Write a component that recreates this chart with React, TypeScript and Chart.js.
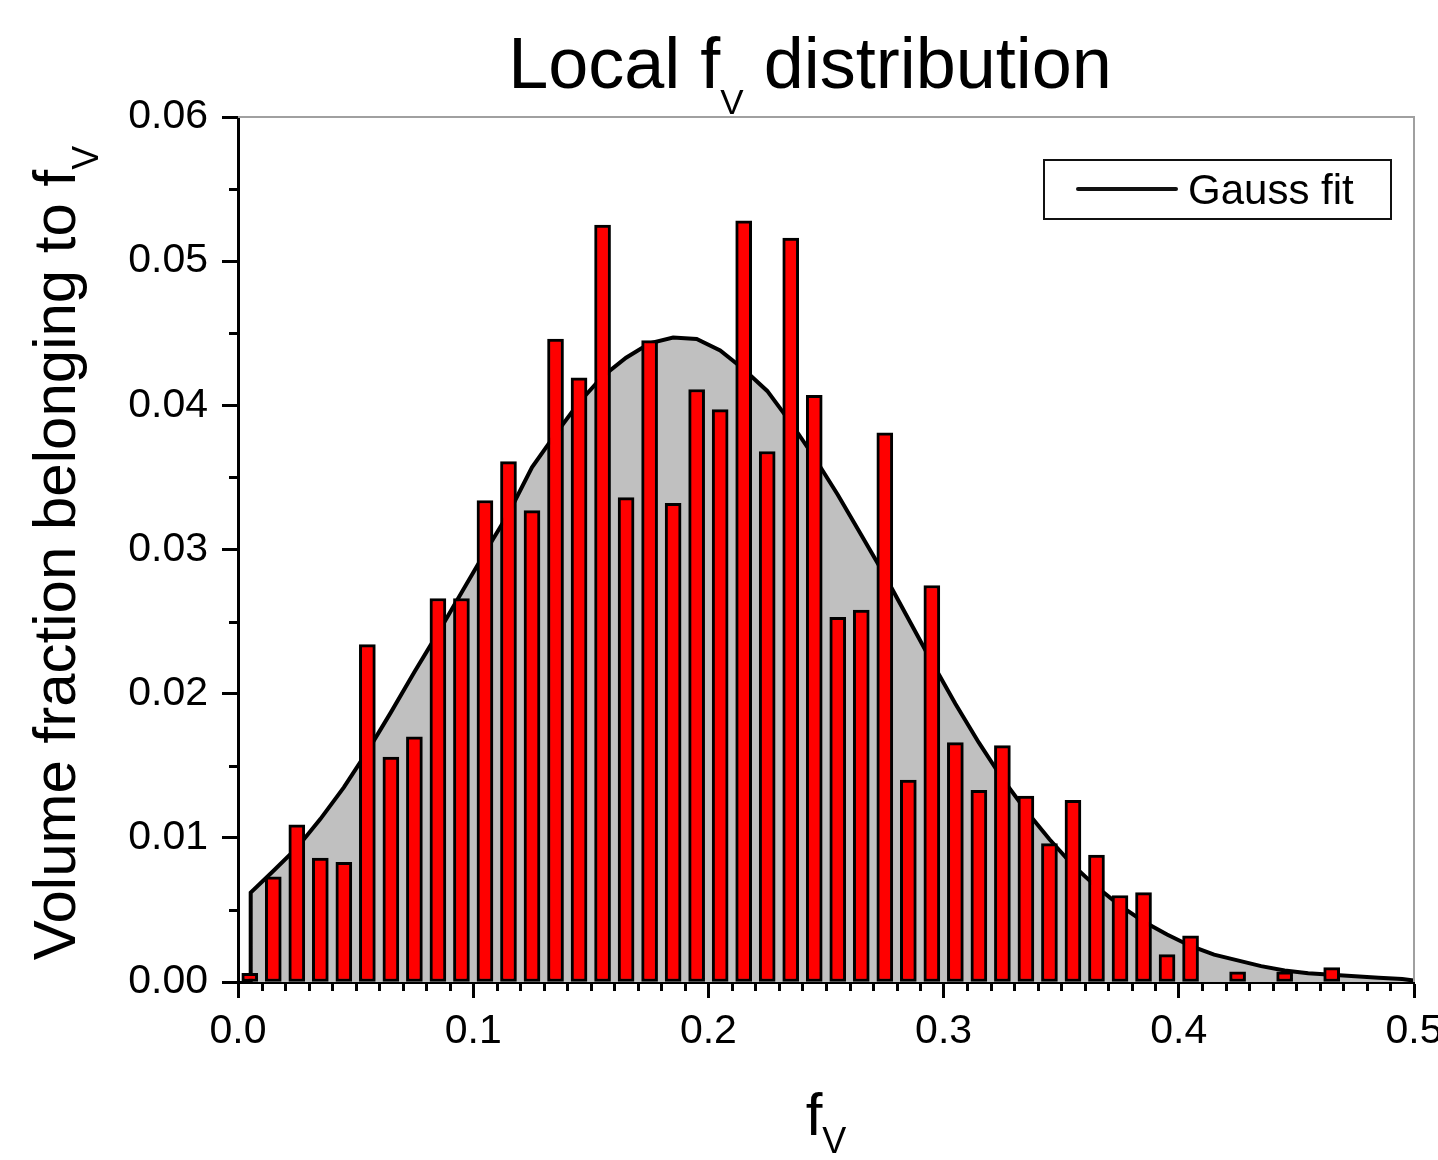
import React, { useEffect, useRef } from 'react';
import { Chart, registerables } from 'chart.js';

Chart.register(...registerables);

// ---------- data ----------
const binCenters = [
  0.005, 0.015, 0.025, 0.035, 0.045, 0.055, 0.065, 0.075, 0.085, 0.095,
  0.105, 0.115, 0.125, 0.135, 0.145, 0.155, 0.165, 0.175, 0.185, 0.195,
  0.205, 0.215, 0.225, 0.235, 0.245, 0.255, 0.265, 0.275, 0.285, 0.295,
  0.305, 0.315, 0.325, 0.335, 0.345, 0.355, 0.365, 0.375, 0.385, 0.395,
  0.405, 0.415, 0.425, 0.435, 0.445, 0.455, 0.465,
];
const volumeFraction: (number | null)[] = [
  0.0006, 0.0073, 0.0109, 0.0086, 0.0083, 0.0234, 0.0156, 0.0170, 0.0266, 0.0266,
  0.0334, 0.0361, 0.0327, 0.0446, 0.0419, 0.0525, 0.0336, 0.0445, 0.0332, 0.0411,
  0.0397, 0.0528, 0.0368, 0.0516, 0.0407, 0.0253, 0.0258, 0.0381, 0.0140, 0.0275,
  0.0166, 0.0133, 0.0164, 0.0129, 0.0096, 0.0126, 0.0088, 0.0060, 0.0062, 0.0019,
  0.0032, null, 0.0007, null, 0.0007, null, 0.0010,
];

const gaussX = [
  0.0054, 0.0054, 0.015, 0.025, 0.035, 0.045, 0.055, 0.065, 0.075, 0.085, 0.095,
  0.105, 0.115, 0.125, 0.135, 0.145, 0.155, 0.165, 0.175, 0.185, 0.195,
  0.205, 0.215, 0.225, 0.235, 0.245, 0.255, 0.265, 0.275, 0.285, 0.295,
  0.305, 0.315, 0.325, 0.335, 0.345, 0.355, 0.365, 0.375, 0.385, 0.395,
  0.405, 0.415, 0.425, 0.435, 0.445, 0.455, 0.465, 0.475, 0.485, 0.495, 0.5,
];
const gaussY = [
  0, 0.0062, 0.0077, 0.0093, 0.0113, 0.0135, 0.0160, 0.0187, 0.0215, 0.0242, 0.0270,
  0.0298, 0.0325, 0.0357, 0.0380, 0.0402, 0.0420, 0.0433, 0.0443, 0.0447, 0.0446,
  0.0438, 0.0425, 0.0410, 0.0388, 0.0364, 0.0338, 0.0310, 0.0282, 0.0252, 0.0222,
  0.0193, 0.0166, 0.0141, 0.0119, 0.0099, 0.0081, 0.0066, 0.0053, 0.0042, 0.0033,
  0.0025, 0.0019, 0.0015, 0.0011, 0.0008, 0.0006, 0.0005, 0.0004, 0.0003, 0.0002, 0.0001,
];

const xTickLabels = ['0.0', '0.1', '0.2', '0.3', '0.4', '0.5'];
const yTickLabels = ['0.00', '0.01', '0.02', '0.03', '0.04', '0.05', '0.06'];

const titleParts = ['Local f', 'V', ' distribution'];
const yTitleParts = ['Volume fraction belonging to f', 'V'];
const xTitleParts = ['f', 'V'];
const legendLabel = 'Gauss fit';

const FONT = '"Liberation Sans", Arial, Helvetica, sans-serif';

type Seg = { text: string; size: number; dy: number };

function drawComposite(ctx: CanvasRenderingContext2D, segs: Seg[], cx: number, baseline: number) {
  const widths = segs.map((s) => {
    ctx.font = `${s.size}px ${FONT}`;
    return ctx.measureText(s.text).width;
  });
  const total = widths.reduce((a, b) => a + b, 0);
  let x = cx - total / 2;
  ctx.textAlign = 'left';
  ctx.textBaseline = 'alphabetic';
  segs.forEach((s, i) => {
    ctx.font = `${s.size}px ${FONT}`;
    ctx.fillText(s.text, x, baseline + s.dy);
    x += widths[i];
  });
}

const decorPlugin = {
  id: 'decor',
  afterDraw(chart: any) {
    const ctx: CanvasRenderingContext2D = chart.ctx;
    const { left, right, top, bottom } = chart.chartArea;
    const xs = chart.scales.x;
    const ys = chart.scales.y;
    ctx.save();

    // top / right frame
    ctx.strokeStyle = '#a0a0a0';
    ctx.lineWidth = 2;
    ctx.beginPath();
    ctx.moveTo(left, top);
    ctx.lineTo(right, top);
    ctx.lineTo(right, bottom);
    ctx.stroke();

    // minor ticks
    ctx.strokeStyle = '#000';
    ctx.lineWidth = 3;
    ctx.beginPath();
    for (let i = 1; i < 50; i++) {
      if (i % 10 === 0) continue;
      const px = Math.round(xs.getPixelForValue(i * 0.01)) + 0.5;
      ctx.moveTo(px, bottom);
      ctx.lineTo(px, bottom + 9);
    }
    for (let i = 0; i < 6; i++) {
      const py = Math.round(ys.getPixelForValue(0.005 + i * 0.01)) + 0.5;
      ctx.moveTo(left - 9, py);
      ctx.lineTo(left, py);
    }
    ctx.stroke();

    ctx.fillStyle = '#000';
    // title
    drawComposite(ctx, [
      { text: titleParts[0], size: 72, dy: 0 },
      { text: titleParts[1], size: 35, dy: 26 },
      { text: titleParts[2], size: 72, dy: 0 },
    ], 810, 88);

    // x title
    drawComposite(ctx, [
      { text: xTitleParts[0], size: 60, dy: 0 },
      { text: xTitleParts[1], size: 36, dy: 18 },
    ], (left + right) / 2, 1135);

    // y title
    ctx.save();
    ctx.translate(75, 553);
    ctx.rotate(-Math.PI / 2);
    drawComposite(ctx, [
      { text: yTitleParts[0], size: 60, dy: 0 },
      { text: yTitleParts[1], size: 36, dy: 23 },
    ], 0, 0);
    ctx.restore();

    // legend
    ctx.strokeStyle = '#111';
    ctx.lineWidth = 2;
    ctx.strokeRect(1044, 160, 347, 59);
    ctx.lineWidth = 4;
    ctx.lineCap = 'round';
    ctx.beginPath();
    ctx.moveTo(1078, 189);
    ctx.lineTo(1176, 189);
    ctx.stroke();
    ctx.font = `42px ${FONT}`;
    ctx.textAlign = 'left';
    ctx.textBaseline = 'alphabetic';
    ctx.fillText(legendLabel, 1188, 204);

    ctx.restore();
  },
};

export default function App() {
  const ref = useRef<HTMLCanvasElement | null>(null);

  useEffect(() => {
    if (!ref.current) return;
    const chart = new Chart(ref.current, {
      type: 'bar',
      data: {
        datasets: [
          {
            type: 'bar',
            label: 'Volume fraction',
            data: binCenters.map((x, i) => ({ x, y: volumeFraction[i] })) as any,
            backgroundColor: '#ff0000',
            borderColor: '#000000',
            borderWidth: 3,
            borderSkipped: false,
            barThickness: 16,
            order: 1,
          } as any,
          {
            type: 'line',
            label: legendLabel,
            data: gaussX.map((x, i) => ({ x, y: gaussY[i] })) as any,
            borderColor: '#000000',
            borderWidth: 4,
            backgroundColor: '#c0c0c0',
            fill: 'origin',
            pointRadius: 0,
            tension: 0,
            order: 2,
          } as any,
        ],
      },
      options: {
        animation: false,
        responsive: false,
        devicePixelRatio: 1,
        layout: { padding: { left: 0, top: 117, right: 66, bottom: 78 } },
        plugins: {
          legend: { display: false },
          title: { display: false },
          tooltip: { enabled: false },
        },
        scales: {
          x: {
            type: 'linear',
            min: 0,
            max: 0.5,
            offset: false,
            grid: {
              offset: false,
              display: true,
              drawOnChartArea: false,
              drawTicks: true,
              tickLength: 16,
              tickWidth: 3,
              tickColor: '#000',
            },
            border: { display: true, color: '#000', width: 3 },
            ticks: {
              stepSize: 0.1,
              padding: 9,
              color: '#000',
              font: { family: FONT, size: 41 },
              maxRotation: 0,
              autoSkip: false,
              callback: (_v: any, i: number) => xTickLabels[i],
            },
            afterFit: (scale: any) => {
              scale.height = 100;
            },
          },
          y: {
            type: 'linear',
            min: 0,
            max: 0.06,
            grid: {
              display: true,
              drawOnChartArea: false,
              drawTicks: true,
              tickLength: 16,
              tickWidth: 3,
              tickColor: '#000',
            },
            border: { display: true, color: '#000', width: 3 },
            ticks: {
              stepSize: 0.01,
              padding: 14,
              color: '#000',
              font: { family: FONT, size: 41 },
              autoSkip: false,
              callback: (_v: any, i: number) => yTickLabels[i],
            },
            afterFit: (scale: any) => {
              scale.width = 238;
            },
          },
        },
      } as any,
      plugins: [decorPlugin],
    });
    return () => chart.destroy();
  }, []);

  return (
    <div
      style={{
        position: 'fixed',
        left: 0,
        top: 0,
        width: 1438,
        height: 1160,
        overflow: 'hidden',
        background: '#ffffff',
      }}
    >
      <canvas ref={ref} width={1480} height={1160} style={{ display: 'block' }} />
    </div>
  );
}
